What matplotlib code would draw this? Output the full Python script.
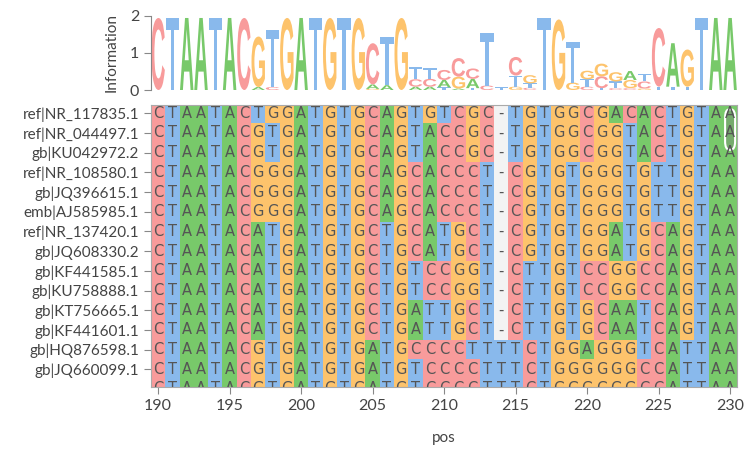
import matplotlib
matplotlib.use("Agg")
import matplotlib.pyplot as plt
import numpy as np
from matplotlib.colors import ListedColormap
from matplotlib.textpath import TextPath
from matplotlib.font_manager import FontProperties
from matplotlib.patches import PathPatch, FancyBboxPatch
from matplotlib.transforms import Affine2D

# alignment window starts at position 190
start_pos = 190

names = [
    "ref|NR_117835.1", "ref|NR_044497.1", "gb|KU042972.2", "ref|NR_108580.1",
    "gb|JQ396615.1", "emb|AJ585985.1", "ref|NR_137420.1", "gb|JQ608330.2",
    "gb|KF441585.1", "gb|KU758888.1", "gb|KT756665.1", "gb|KF441601.1",
    "gb|HQ876598.1", "gb|JQ660099.1",
]

seqs = [
    "CTAATACTGGATGTGCAGTGTCGC-TGTGGCGACACTGTAA",
    "CTAATACGTGATGTGCAGTACCGC-TGTGGCGGTACTGTAA",
    "CTAATACGTGATGTGCAGTACCGC-TGTGGCGGTACTGTAA",
    "CTAATACGGGATGTGCAGCACCCT-CGTGTGGGTGTTGTAA",
    "CTAATACGGGATGTGCAGCACCCT-CGTGTGGGTGTTGTAA",
    "CTAATACGGGATGTGCAGCACCCT-CGTGTGGGTGTTGTAA",
    "CTAATACATGATGTGCTGCATGCT-CGTGTGGATGCAGTAA",
    "CTAATACATGATGTGCTGCATGCT-CGTGTGGATGCAGTAA",
    "CTAATACATGATGTGCTGTCCGGT-CTTGTCCGGCCAGTAA",
    "CTAATACATGATGTGCTGTCCGGT-CTTGTCCGGCCAGTAA",
    "CTAATACATGATGTGCTGATTGCT-CTTGTGCAATCAGTAA",
    "CTAATACATGATGTGCTGATTGCT-CTTGTGCAATCAGTAA",
    "CTAATACGTGATGTGATGCCCCTTTTCTGGAGGGTCATTAA",
    "CTAATACGTGATGTGATGTCCCCTTTCTGGGGGGCCATTAA",
    "CTAATACGTGATGTGATGTCCCCTTTCTGGGGGGCCATTAA",
]

# sequence logo, information (bits) per letter and position
logo_A = [0, 0, 1.94, 1.94, 0, 1.94, 0, 0.08, 0, 0, 1.94, 0, 0, 0, 0, 0.12, 0.13, 0,
          0.09, 0.09, 0.20, 0.04, 0.25, 0, 0, 0, 0, 0, 0, 0, 0, 0, 0, 0.24, 0, 0,
          1.17, 0, 0, 1.94, 1.94]
logo_C = [1.94, 0, 0, 0, 0, 0, 1.94, 0, 0.08, 0, 0, 0, 0, 0, 0, 1.11, 0, 0,
          0.20, 0.21, 0.27, 0.50, 0.28, 0.12, 0, 0.50, 0.06, 0, 0, 0, 0.09, 0.32, 0.05, 0.05, 0.19, 1.58,
          0, 0, 0, 0, 0]
logo_G = [0, 0, 0, 0, 0, 0, 0, 1.36, 0, 1.94, 0, 0, 1.94, 0, 1.94, 0.03, 0, 1.94,
          0, 0, 0, 0.32, 0, 0, 0, 0.09, 0.22, 0, 1.90, 0.20, 0.23, 0.34, 0.25, 0.22, 0.04, 0,
          0, 1.00, 0, 0, 0]
logo_T = [0, 1.94, 0, 0, 1.94, 0, 0, 0, 1.54, 0, 0, 1.94, 0, 1.94, 0, 0, 1.31, 0,
          0.33, 0.29, 0.07, 0, 0.05, 1.41, 0.08, 0.30, 0.12, 1.94, 0, 1.10, 0.20, 0.05, 0.18, 0, 0.20, 0.09,
          0.09, 0.09, 1.94, 0, 0]

colors = {"A": "#78c96a", "C": "#f89b9b", "G": "#fdc36c", "T": "#89b9ec", "-": "#f3f3f3"}
letters = "ACGT-"
text_col = "#444444"
plt.rcParams["font.family"] = ["Lato", "DejaVu Sans"]

fig = plt.figure(figsize=(7.5, 4.5), dpi=100)
ax_logo = fig.add_axes([0.2013, 0.8, 0.7817, 0.165])
ax = fig.add_axes([0.2013, 0.14, 0.7817, 0.6267])

n_pos = len(seqs[0])
positions = np.arange(start_pos, start_pos + n_pos)

# --- logo ---
fp = FontProperties(family="Liberation Sans", weight="bold")
logo = {"A": logo_A, "C": logo_C, "G": logo_G, "T": logo_T}
for j, p in enumerate(positions):
    stack = sorted([(logo[b][j], b) for b in "ACGT" if logo[b][j] > 0])
    y0 = 0
    for h, b in stack:
        tp = TextPath((0, 0), b, size=1, prop=fp)
        ext = tp.get_extents()
        w = 0.94
        tr = (Affine2D().translate(-ext.x0, -ext.y0)
              .scale(w / ext.width, h / ext.height)
              .translate(p - w / 2, y0))
        ax_logo.add_patch(PathPatch(tr.transform_path(tp), fc=colors[b], ec="none"))
        y0 += h

ax_logo.set_xlim(start_pos - 0.5, start_pos + n_pos - 0.5)
ax_logo.set_ylim(0, 2)
ax_logo.set_yticks([0, 1, 2])
ax_logo.set_xticks([])
for s in ["top", "right", "bottom"]:
    ax_logo.spines[s].set_visible(False)
ax_logo.spines["left"].set_color("#888888")
ax_logo.tick_params(axis="y", colors="#888888", labelcolor=text_col, labelsize=11.5, length=5)
ax_logo.set_ylabel("Information", fontsize=11, color=text_col, labelpad=8)

# --- alignment heatmap ---
codes = np.array([[letters.index(c) for c in s] for s in seqs])
cmap = ListedColormap([colors[c] for c in letters])
x_edges = np.arange(n_pos + 1) + start_pos - 0.5
y_edges = np.arange(len(seqs) + 1) - 0.5
ax.pcolormesh(x_edges, y_edges, codes, cmap=cmap, vmin=-0.5, vmax=4.5)

for i, s in enumerate(seqs):
    for j, c in enumerate(s):
        ax.text(positions[j], i, c, ha="center", va="center", fontsize=10.5,
                color="#555555", family="DejaVu Sans", clip_on=True)

# highlighted cell
ax.add_patch(FancyBboxPatch((229.65, -0.2), 0.7, 2.05,
                            boxstyle="round,pad=0.0,rounding_size=0.3",
                            fc=(0.45, 0.45, 0.45, 0.35), ec="white", lw=1.5,
                            mutation_aspect=1.4))

ax.set_xlim(start_pos - 0.5, start_pos + n_pos - 0.5)
ax.set_ylim(13.9, -0.42)
ax.set_yticks(range(len(names)))
ax.set_yticklabels(names)
ax.set_xticks(range(190, 231, 5))
ax.tick_params(axis="both", colors="#888888", labelcolor=text_col, length=5)
ax.tick_params(axis="y", labelsize=11)
ax.tick_params(axis="x", labelsize=11.5)
for s in ax.spines.values():
    s.set_color("#aaaaaa")
ax.set_xlabel("pos", fontsize=11, color=text_col, labelpad=13)

fig.savefig("out.png", dpi=100)
